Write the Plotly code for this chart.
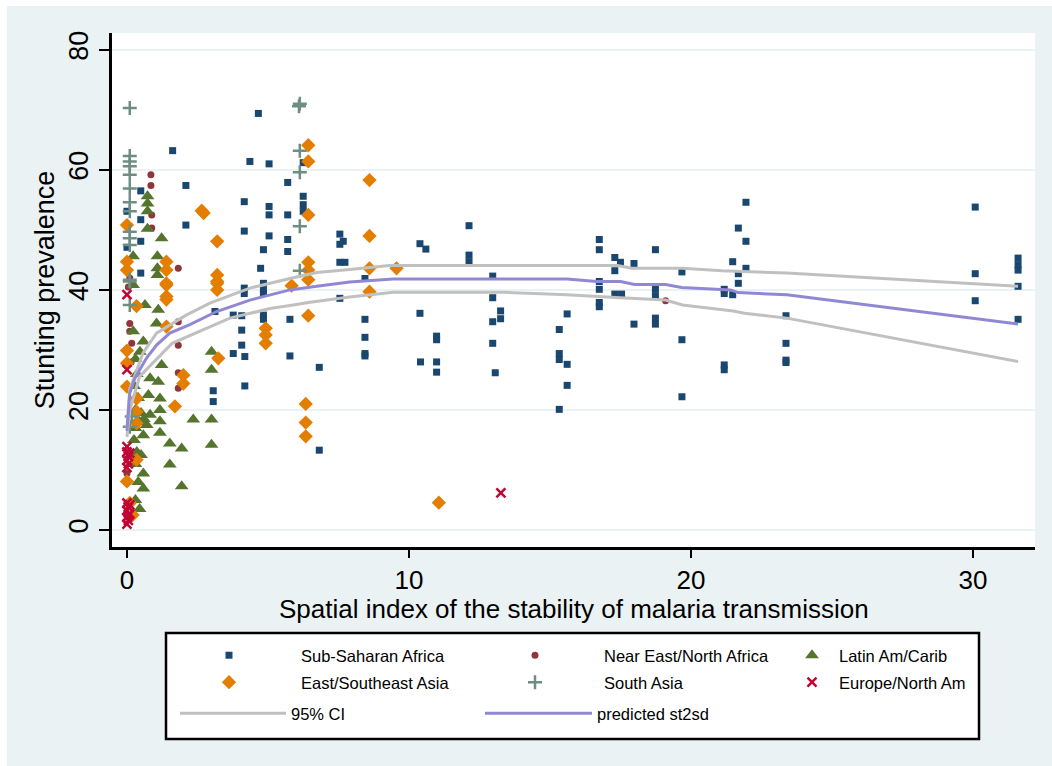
import plotly.graph_objects as go

# ---------------- data ----------------
ssa_x = [0.0, 0.0, 0.49, 0.49, 0.49, 0.49, 1.62, 2.09, 2.09,
         3.06, 3.06, 3.12, 3.77, 3.77, 4.07, 4.07, 4.07, 4.18, 4.18, 4.16, 4.16, 4.16, 4.16,
         4.36, 4.66, 4.74, 4.84, 4.84, 4.84, 4.84, 4.84, 4.84,
         5.04, 5.04, 5.04, 5.04, 5.7, 5.7, 5.7, 5.7, 5.78, 5.78,
         6.25, 6.25, 6.25, 6.25, 6.82, 6.82,
         7.55, 7.67, 7.55, 7.55, 7.73, 7.55,
         8.44, 8.44, 8.44, 8.44, 8.44,
         10.39, 10.6, 10.39, 10.41, 10.98, 10.98, 10.98, 10.98,
         12.13, 12.13, 12.13, 12.97, 12.97, 13.25, 13.25, 12.97, 12.97, 13.06,
         15.61, 15.33, 15.33, 15.33, 15.61, 15.61, 15.33,
         16.75, 16.75, 16.75, 16.75, 16.75, 16.75,
         17.3, 17.5, 17.3, 17.3, 17.54, 17.98, 17.98,
         18.74, 18.74, 18.74, 18.74, 18.74,
         19.68, 19.68, 19.68,
         21.18, 21.18, 21.48, 21.48, 21.18, 21.18, 21.68, 21.95, 21.95, 21.68, 21.68, 21.95,
         23.37, 23.37, 23.37, 23.37,
         30.08, 30.08, 30.08,
         31.6, 31.6, 31.6, 31.6, 31.6]
ssa_y = [53.1, 47.1, 56.5, 51.7, 48.1, 42.8, 63.2, 57.4, 50.8,
         23.2, 21.4, 36.4, 35.8, 29.4, 35.7, 33.3, 30.8, 28.9, 24.0, 54.7, 49.8, 40.3, 39.4,
         61.4, 69.4, 43.6, 46.7, 41.1, 40.0, 39.4, 35.8, 35.1,
         61.0, 53.9, 52.5, 49.0, 57.9, 52.5, 48.4, 46.4, 35.1, 29.0,
         61.2, 55.6, 54.2, 53.1, 27.1, 13.3,
         49.3, 48.1, 47.6, 44.6, 44.6, 38.6,
         41.9, 35.1, 32.1, 29.4, 29.0,
         47.7, 46.8, 36.1, 28.0, 32.3, 31.7, 28.0, 26.3,
         50.7, 45.8, 44.7, 42.3, 38.7, 36.5, 35.2, 34.7, 31.1, 26.2,
         36.0, 33.4, 29.4, 28.4, 27.6, 24.1, 20.1,
         48.4, 46.7, 41.4, 40.1, 37.9, 37.2,
         45.4, 44.6, 43.2, 39.3, 39.3, 44.4, 34.3,
         46.7, 40.1, 39.0, 35.3, 34.3,
         43.0, 31.7, 22.2,
         40.1, 39.4, 44.7, 39.2, 27.5, 26.7, 50.3, 54.6, 48.1, 42.7, 41.1, 43.6,
         35.7, 31.1, 28.3, 27.9,
         53.8, 42.7, 38.2,
         45.3, 44.2, 43.3, 40.6, 35.1]

ne_x = [0.85, 0.85, 0.88, 0.88, 1.82, 0.1, 0.1, 0.1, 0.17, 1.82, 1.82, 1.82, 1.82, 0.0, 19.1, 0.05, 0.15]
ne_y = [59.2, 57.4, 52.5, 50.3, 43.6, 42.0, 34.4, 33.1, 31.1, 34.7, 30.8, 26.2, 23.6, 9.4, 38.2, 40.5, 28.0]

la_x = [0.73, 0.73, 0.73, 0.73, 1.23, 0.22, 1.08, 1.08, 1.08, 0.22, 0.64, 1.11, 0.22, 1.05, 0.58,
        0.46, 1.23, 0.82, 1.11, 0.76, 1.17, 0.82, 1.17, 1.17, 1.17, 0.58, 1.52, 1.94, 0.58, 1.52,
        1.94, 0.58, 3.0, 3.0, 2.35, 3.0, 3.0,
        0.3, 0.35, 0.25, 0.4, 0.3, 0.45, 0.3, 0.25, 0.35, 0.3, 0.4, 0.3, 0.45, 0.5, 0.6, 0.7, 0.5]
la_y = [55.6, 54.4, 53.1, 50.2, 48.6, 45.6, 45.6, 43.6, 42.5, 40.8, 37.5, 36.7, 33.1, 34.4, 31.4,
        29.7, 27.5, 25.3, 24.7, 22.5, 21.9, 19.2, 20.0, 18.1, 16.2, 15.8, 14.4, 13.6, 9.4, 10.9,
        7.3, 6.9, 29.7, 26.7, 18.4, 18.4, 14.2,
        28.5, 26.0, 24.0, 22.0, 20.0, 18.0, 17.0, 15.0, 13.0, 11.0, 8.0, 5.0, 3.5, 19.5, 18.5, 17.5, 12.5]

esa_x = [0.0, 2.65, 2.72, 3.2, 0.0, 0.0, 1.4, 1.4, 1.4, 3.2, 3.2, 1.4, 1.4, 1.4, 0.34, 3.2, 3.2,
         1.4, 0.0, 0.0, 2.0, 2.0, 3.24, 0.0, 0.34, 0.34, 0.34, 1.7, 0.34, 0.0,
         6.43, 6.43, 8.6, 6.43, 8.6, 6.43, 6.43, 6.43, 5.84, 8.6, 9.56, 8.6, 6.43,
         4.92, 4.92, 4.92, 6.34, 6.34, 6.34, 11.06, 0.1, 0.2]
esa_y = [50.8, 53.2, 52.8, 48.1, 44.7, 43.3, 44.7, 43.3, 41.1, 42.5, 41.1, 40.8, 38.9, 38.4, 37.3, 41.4, 40.0,
         33.9, 29.9, 27.8, 25.8, 24.4, 28.6, 23.9, 21.9, 19.7, 17.8, 20.6, 11.7, 8.1,
         64.1, 61.4, 58.3, 52.5, 49.0, 44.6, 43.3, 41.7, 40.7, 43.6, 43.6, 39.7, 35.7,
         33.6, 32.5, 31.1, 21.0, 17.9, 15.6, 4.55, 4.5, 2.5]

sa_x = [0.1, 0.1, 0.1, 0.1, 0.1, 0.1, 0.1, 0.1, 0.1, 0.1, 0.1, 0.1, 0.1, 0.1, 0.17, 0.1,
        6.13, 6.1, 6.13, 6.13, 6.13, 6.13]
sa_y = [70.3, 62.3, 61.4, 60.6, 59.2, 56.9, 54.6, 53.1, 49.7, 48.6, 47.5, 41.7, 41.4, 37.5, 18.9, 17.2,
        71.0, 70.6, 63.2, 59.6, 50.6, 43.2]

eu_x = [0.0, 0.0, 0.0, 0.0, 0.05, 0.0, 0.05, 0.0, 0.1, 0.0, 0.05, 0.0, 0.1, 0.0, 0.05, 0.0, 0.1, 0.05, 13.26]
eu_y = [39.2, 26.7, 13.9, 13.0, 12.3, 11.6, 11.0, 10.4, 12.8, 4.5, 3.8, 3.2, 2.7, 2.1, 1.6, 1.0, 4.2, 2.4, 6.2]

pred_x = [0, 0.05, 0.1, 0.28, 0.7, 1.05, 1.52, 2.23, 3.18, 4.36, 5.78, 6.73, 7.9, 9.44,
          15.6, 16.66, 17.5, 18.0, 19.1, 19.67, 21.4, 21.67, 23.4, 31.6]
pred_y = [16.5, 19.5, 22.8, 25.3, 28.7, 30.8, 32.8, 34.2, 36.4, 38.3, 40.0, 40.6, 41.3, 41.8,
          41.8, 41.4, 41.4, 40.9, 40.9, 40.4, 40.0, 39.55, 39.2, 34.3]
ciu_x = [0, 0.05, 0.1, 0.22, 0.57, 1.05, 2.1, 2.94, 4.36, 5.78, 6.73, 7.9, 9.3, 17.4, 17.9, 19.7,
         21.1, 23.4, 31.6]
ciu_y = [17.0, 21.0, 23.5, 25.0, 29.5, 32.8, 35.8, 37.8, 40.3, 41.9, 42.9, 43.4, 44.05, 44.05, 43.6, 43.6,
         43.2, 42.8, 40.6]
cil_x = [0, 0.05, 0.1, 0.45, 1.6, 3.65, 4.36, 5.07, 5.9, 6.43, 7.9, 9.44, 13.4, 15.6, 17.5,
         19.1, 19.7, 21.5, 21.9, 23.4, 31.6]
cil_y = [15.5, 18.0, 20.0, 25.6, 31.1, 35.3, 36.1, 36.9, 37.5, 37.9, 38.8, 39.6, 39.6, 39.2, 38.7,
         38.3, 37.5, 36.5, 36.1, 35.3, 28.05]

x_ticks = [0, 10, 20, 30]
y_ticks = [0, 20, 40, 60, 80]
x_title = "Spatial index of the stability of malaria transmission"
y_title = "Stunting prevalence"

# ---------------- styling ----------------
FONT = "Liberation Sans, Arial, Helvetica, sans-serif"
BG = "#EAF2F3"

W, H = 1052, 766
L, R, T, B = 112, 17, 33, 219
pw, ph = W - L - R, H - T - B


def px2x(px):
    return (px - L) / pw


def py2y(py):
    return (H - B - py) / ph


fig = go.Figure()


def scat(x, y, name, color, symbol, size, legend, lw=0):
    fig.add_trace(go.Scatter(
        x=x, y=y, mode="markers", name=name, legend=legend,
        marker=dict(color=color, symbol=symbol, size=size,
                    line=dict(width=lw, color=color)),
    ))


scat(ssa_x, ssa_y, "Sub-Saharan Africa", "#1A476F", "square", 7, "legend")
scat(ne_x, ne_y, "Near East/North Africa", "#90353B", "circle", 7, "legend2")
scat(la_x, la_y, "Latin Am/Carib", "#55752F", "triangle-up", 12, "legend3")
scat(esa_x, esa_y, "East/Southeast Asia", "#E37E00", "diamond", 11, "legend4")
scat(sa_x, sa_y, "South Asia", "#6E8E84", "cross-thin", 10, "legend5", lw=2.5)
scat(eu_x, eu_y, "Europe/North Am", "#C10534", "x-thin", 9, "legend6", lw=2.5)

fig.add_trace(go.Scatter(x=ciu_x, y=ciu_y, mode="lines", name="95% CI", legend="legend7",
                         line=dict(color="#C0C0C0", width=3)))
fig.add_trace(go.Scatter(x=cil_x, y=cil_y, mode="lines", name="95% CI", legend="legend7",
                         showlegend=False, line=dict(color="#C0C0C0", width=3)))
fig.add_trace(go.Scatter(x=pred_x, y=pred_y, mode="lines", name="predicted st2sd", legend="legend8",
                         line=dict(color="#9088D5", width=3)))


def leg(left_px, top_px, iw):
    return dict(orientation="v", bgcolor="rgba(0,0,0,0)", borderwidth=0,
                font=dict(family=FONT, size=16.5, color="black"),
                xanchor="left", yanchor="top", itemwidth=iw,
                x=px2x(left_px), y=py2y(top_px))


ROW1, ROW2, ROW3 = 638, 665, 696

fig.update_layout(
    width=W, height=H,
    margin=dict(l=L, r=R, t=T, b=B),
    paper_bgcolor=BG, plot_bgcolor="white",
    font=dict(family=FONT, color="black"),
    showlegend=True,
    legend=leg(157, ROW1, 134),
    legend2=leg(466, ROW1, 128),
    legend3=leg(785, ROW1, 44),
    legend4=leg(157, ROW2, 134),
    legend5=leg(466, ROW2, 128),
    legend6=leg(785, ROW2, 44),
    legend7=leg(175, ROW3, 106),
    legend8=leg(480, ROW3, 107),
    xaxis=dict(range=[-0.53, 32.2], tickvals=x_ticks, ticks="outside", ticklen=8, tickwidth=2,
               tickcolor="black", showline=True, linecolor="black", linewidth=2.5,
               showgrid=False, zeroline=False, tickfont=dict(size=26)),
    yaxis=dict(range=[-2.83, 82.8], tickvals=y_ticks, ticks="outside", ticklen=10, tickwidth=2,
               tickcolor="black", showline=True, linecolor="black", linewidth=2.5,
               showgrid=True, gridcolor=BG, gridwidth=2, zeroline=False,
               tickangle=-90, tickfont=dict(size=27), ticklabelstandoff=0,
               title=dict(text=y_title, font=dict(size=27), standoff=3)),
    annotations=[
        dict(text=x_title, xref="paper", yref="paper", x=px2x(574), y=py2y(609),
             xanchor="center", yanchor="middle", showarrow=False, font=dict(size=26)),
    ],
    shapes=[
        # legend box
        dict(type="rect", xref="paper", yref="paper",
             x0=px2x(166), x1=px2x(979), y0=py2y(633), y1=py2y(739),
             line=dict(color="black", width=2.5), fillcolor="white", layer="below"),
        # white frame strips on the top and left of the outer region
        dict(type="rect", xref="paper", yref="paper",
             x0=px2x(0), x1=px2x(7), y0=py2y(H), y1=py2y(0),
             line=dict(width=0), fillcolor="white", layer="below"),
        dict(type="rect", xref="paper", yref="paper",
             x0=px2x(0), x1=px2x(W), y0=py2y(6), y1=py2y(0),
             line=dict(width=0), fillcolor="white", layer="below"),
    ],
)

fig.write_html("out.html")
